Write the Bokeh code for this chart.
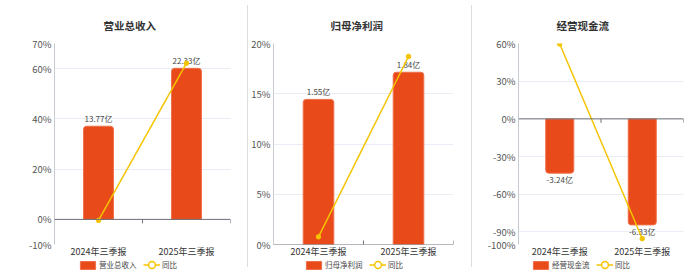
from bokeh.plotting import figure
from bokeh.models import (Range1d, FixedTicker, PrintfTickFormatter,
                          Legend, LegendItem, Div, Span)
from bokeh.layouts import row, column
from bokeh.embed import file_html
from bokeh.resources import INLINE
from bokeh.core.properties import value

# ---------------- data ----------------
periods = ["2024年三季报", "2025年三季报"]

titles = ["营业总收入", "归母净利润", "经营现金流"]

revenue = [13.77, 22.33]          # 亿
revenue_yoy = [-0.4, 62.16]       # %
profit = [1.55, 1.84]             # 亿
profit_yoy = [0.76, 18.71]        # %
cashflow = [-3.24, -6.33]         # 亿
cashflow_yoy = [59.6, -95.37]     # %

pct_ticks_1 = [-10, 0, 20, 40, 60, 70]
pct_ticks_2 = [0, 5, 10, 15, 20]
pct_ticks_3 = [-100, -90, -60, -30, 0, 30, 60]

legend_yoy = "同比"

# ---------------- styles ----------------
FONT = "Noto Sans CJK SC"
BAR = "#e84a1a"
BAR_EDGE = "#f0704a"
YEL = "#f5c400"
GRID = "#e9edf5"
AXIS = "#6e7079"
MAIN_H = 260
LEG_H = 12
TOP = 43
BOTTOM = 16
FRAME_H = MAIN_H - TOP - BOTTOM
NAN = float("nan")


def legend_box(items, x, y, gw, gh):
    return Legend(items=items, orientation="horizontal", location=(x, y),
                  padding=0, margin=0, spacing=6, glyph_width=gw, glyph_height=gh,
                  label_height=8, label_standoff=2,
                  label_text_font=FONT, label_text_font_size="7.5px",
                  label_text_color="#444444",
                  border_line_color=None, background_fill_alpha=0)


def make_panel(title, vals, yoy, pct_rng, ticks, bar_rng, width, left, right,
               title_offset, legend_x, legend_x2):
    n = len(periods)
    xs = [i + 0.5 for i in range(n)]
    edges = list(range(n + 1))
    p = figure(width=width, height=MAIN_H, output_backend="svg", toolbar_location=None,
               x_range=Range1d(0, n), y_range=Range1d(*pct_rng),
               min_border_left=left, min_border_right=right,
               min_border_top=TOP, min_border_bottom=BOTTOM)
    p.outline_line_color = None
    p.background_fill_color = "white"
    p.border_fill_color = "white"
    p.extra_y_ranges = {"bar": Range1d(*bar_rng)}

    # title
    p.title.text = title
    p.title.align = "left"
    p.title.offset = title_offset
    p.title.standoff = 22
    p.title.text_font = FONT
    p.title.text_font_size = "10.5px"
    p.title.text_font_style = "bold"
    p.title.text_color = "#333333"

    # y axis
    ya = p.yaxis[0]
    ya.ticker = FixedTicker(ticks=ticks)
    ya.formatter = PrintfTickFormatter(format="%d%%")
    ya.axis_line_color = "#c8cad2"
    ya.major_tick_line_color = None
    ya.minor_tick_line_color = None
    ya.major_tick_out = 0
    ya.major_tick_in = 0
    ya.minor_tick_out = 0
    ya.minor_tick_in = 0
    ya.major_label_standoff = 3
    ya.major_label_text_font = FONT
    ya.major_label_text_font_size = "9.5px"
    ya.major_label_text_color = "#555555"

    # x axis (labels at bottom)
    xa = p.xaxis[0]
    xa.ticker = FixedTicker(ticks=xs, minor_ticks=edges)
    xa.major_label_overrides = {x: lab for x, lab in zip(xs, periods)}
    xa.major_tick_line_color = None
    xa.major_tick_out = 0
    xa.major_tick_in = 0
    xa.major_label_standoff = 0
    xa.major_label_text_font = FONT
    xa.major_label_text_font_size = "9px"
    xa.major_label_text_color = "#333333"
    xa.minor_tick_in = 0
    xa.minor_tick_out = 0
    xa.axis_line_color = None
    xa.minor_tick_line_color = None

    # zero line with band-edge ticks
    p.add_layout(Span(location=0, dimension="width", line_color=AXIS, line_width=1))
    tick_len = (pct_rng[1] - pct_rng[0]) / FRAME_H * 4
    tick_top = 0 if pct_rng[0] < 0 else tick_len
    p.segment(x0=edges, x1=edges, y0=[tick_top] * len(edges),
              y1=[tick_top - tick_len] * len(edges), line_color=AXIS, line_width=1)

    p.xgrid.visible = False
    p.ygrid.ticker = FixedTicker(ticks=ticks)
    p.ygrid.grid_line_color = GRID

    radius = (3, 3, 0, 0) if min(vals) >= 0 else (0, 0, 3, 3)
    bar_style = dict(fill_color=BAR, line_color=BAR_EDGE, line_width=1, border_radius=radius)
    p.vbar(x=xs, top=vals, bottom=0, width=0.34, y_range_name="bar", **bar_style)

    labels = [f"{v:.2f}亿" for v in vals]
    if min(vals) >= 0:
        p.text(x=xs, y=vals, text=labels, y_range_name="bar", text_align="center",
               text_baseline="bottom", y_offset=-2, text_font=value(FONT),
               text_font_size="8px", text_color="#444444")
    else:
        p.text(x=xs, y=vals, text=labels, y_range_name="bar", text_align="center",
               text_baseline="top", y_offset=1, text_font=value(FONT),
               text_font_size="8px", text_color="#444444")

    p.line(x=xs, y=yoy, line_color=YEL, line_width=1.5)
    p.scatter(x=xs, y=yoy, size=4.5, fill_color=YEL, line_color=YEL)

    # legend strip below the chart
    lg = figure(width=width, height=LEG_H, output_backend="svg", toolbar_location=None,
                x_range=Range1d(0, 1), y_range=Range1d(0, 1),
                x_axis_type=None, y_axis_type=None,
                min_border=0, min_border_left=0, min_border_right=0,
                min_border_top=0, min_border_bottom=0)
    lg.outline_line_color = None
    lg.grid.visible = False
    lg.background_fill_color = "white"
    lg.border_fill_color = "white"
    lb = lg.vbar(x=[NAN], top=[NAN], bottom=0, width=0.3, fill_color=BAR,
                 line_color=BAR_EDGE, line_width=1, border_radius=2)
    ll = lg.line(x=[NAN], y=[NAN], line_color=YEL, line_width=1.5)
    ls = lg.scatter(x=[NAN], y=[NAN], size=8, fill_color="white", line_color=YEL,
                    line_width=1.5)
    lg.add_layout(legend_box([LegendItem(label=title, renderers=[lb])],
                             legend_x, 2, 19, 10))
    lg.add_layout(legend_box([LegendItem(label=legend_yoy, renderers=[ll, ls])],
                             legend_x2, -1, 17, 17))
    return column(p, lg)


p1 = make_panel(titles[0], revenue, revenue_yoy, (-10, 70), pct_ticks_1,
                (-26 / 7, 26), 247, 54, 17, 49, 24, 89)
p2 = make_panel(titles[1], profit, profit_yoy, (0, 20), pct_ticks_2,
                (0, 2.147), 223, 22, 18, 57, 31, 96)
p3 = make_panel(titles[2], cashflow, cashflow_yoy, (-100, 60), pct_ticks_3,
                (-7.5, 4.5), 228, 46, 17, 38, 13, 78)


def sep():
    return Div(text="", width=1, height=262, margin=(5, 0, 0, 0),
               styles={"background-color": "#dddddd"})


layout = row(p1, sep(), p2, sep(), p3)
open("out.html", "w").write(file_html(layout, INLINE))
